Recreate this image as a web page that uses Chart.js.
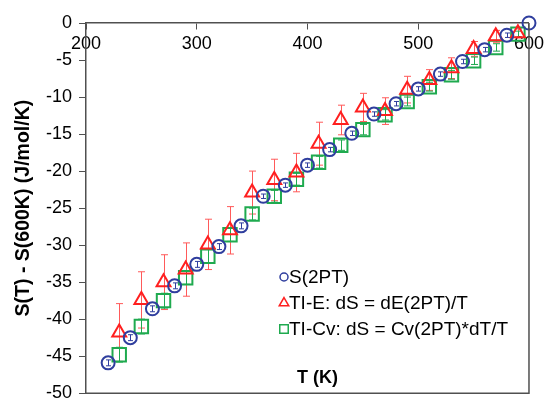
<!DOCTYPE html>
<html>
<head>
<meta charset="utf-8">
<script src="https://cdn.jsdelivr.net/npm/chart.js@4/dist/chart.umd.min.js"></script>
<style>
  html, body { margin: 0; padding: 0; background: #fff; }
  #wrap { width: 548px; height: 411px; position: relative; }
</style>
</head>
<body>
<div id="wrap"><canvas id="chart"></canvas></div>
<script>
// temperatures (K)
const tempFull = [220, 240, 260, 280, 300, 320, 340, 360, 380, 400,
                  420, 440, 460, 480, 500, 520, 540, 560, 580, 600];
const tempMid = [230, 250, 270, 290, 310, 330, 350, 370, 390, 410,
                 430, 450, 470, 490, 510, 530, 550, 570, 590];

// S(2PT)
const s2pt = [-45.9, -42.5, -38.6, -35.5, -32.6, -30.2, -27.4, -23.4, -21.9, -19.2,
              -17.1, -14.9, -12.3, -10.9, -8.9, -6.9, -5.2, -3.6, -1.65, 0];
const s2ptErr = [0.4, 0.4, 0.4, 0.4, 0.4, 0.4, 0.4, 0.3, 0.3, 0.3,
                 0.3, 0.3, 0.3, 0.3, 0.3, 0.3, 0.3, 0.3, 0.3, 0];

// TI-E: dS = dE(2PT)/T
const tiE = [-41.8, -37.4, -35.0, -33.3, -29.9, -28.0, -22.9, -21.2, -20.2, -16.3,
             -13.1, -11.4, -11.9, -9.0, -7.7, -6.1, -3.5, -1.8, -1.4];
const tiEErr = [3.9, 3.8, 3.7, 3.6, 3.4, 3.2, 2.9, 2.8, 2.6, 2.9,
                2.0, 1.9, 1.8, 1.8, 1.4, 1.4, 1.0, 0.8, 0.6];

// TI-Cv: dS = Cv(2PT)*dT/T
const tiCv = [-44.8, -41.0, -37.5, -34.4, -31.5, -28.6, -25.8, -23.4, -21.1, -18.8,
              -16.5, -14.4, -12.4, -10.6, -8.6, -7.0, -5.1, -3.3, -1.5];
const tiCvErr = [1.0, 1.0, 1.0, 0.9, 0.9, 0.9, 0.8, 0.8, 0.8, 0.8,
                 0.7, 0.7, 0.7, 0.6, 0.6, 0.6, 0.5, 0.5, 0.4];

const xTicks = [200, 300, 400, 500, 600];
const yTitle = "S(T) - S(600K) (J/mol/K)";
const xTitle = "T (K)";

const BLUE = "#2f3e9e";
const RED = "#ff1f1f";
const GREEN = "#1faa4f";
const AXIS = "#505050";
const FONT = "'Liberation Sans', Arial, sans-serif";

const toPts = (xs, ys) => xs.map((x, i) => ({ x, y: ys[i] }));

// vertical error bars with caps, drawn under the markers
const errorBarPlugin = {
  id: "errorBars",
  beforeDatasetsDraw(chart) {
    const { ctx } = chart;
    const xs = chart.scales.x;
    const ys = chart.scales.y;
    chart.data.datasets.forEach((ds) => {
      if (!ds.errors) return;
      ctx.save();
      ctx.strokeStyle = ds.errorColor;
      ctx.lineWidth = 1;
      ds.data.forEach((p, i) => {
        const e = ds.errors[i];
        if (!e) return;
        const px = Math.round(xs.getPixelForValue(p.x)) + 0.5;
        const top = ys.getPixelForValue(p.y + e);
        const bot = ys.getPixelForValue(p.y - e);
        const cap = ds.capWidth / 2;
        ctx.beginPath();
        ctx.moveTo(px, top);
        ctx.lineTo(px, bot);
        ctx.moveTo(px - cap, top);
        ctx.lineTo(px + cap, top);
        ctx.moveTo(px - cap, bot);
        ctx.lineTo(px + cap, bot);
        ctx.stroke();
      });
      ctx.restore();
    });
  },
};

// right/bottom frame, legend box and x title inside the plot
const decorPlugin = {
  id: "decor",
  afterDraw(chart) {
    const { ctx, chartArea: a } = chart;
    ctx.save();
    ctx.strokeStyle = AXIS;
    ctx.lineWidth = 1.5;
    ctx.beginPath();
    ctx.moveTo(a.right, a.top);
    ctx.lineTo(a.right, a.bottom);
    ctx.lineTo(a.left, a.bottom);
    ctx.stroke();

    // legend
    const lx = 284, ly0 = 277, dy = 26;
    chart.data.datasets.forEach((ds, i) => {
      const y = ly0 + i * dy;
      ctx.strokeStyle = ds.borderColor;
      ctx.fillStyle = "rgba(0,0,0,0)";
      Chart.helpers.drawPoint(ctx, {
        pointStyle: ds.pointStyle,
        radius: ds.legendRadius,
        borderWidth: 1,
        rotation: 0,
      }, lx, y);
      ctx.fillStyle = "#000";
      ctx.font = "19px " + FONT;
      ctx.textBaseline = "middle";
      ctx.textAlign = "left";
      ctx.fillText(ds.label, lx + 5, y + 1);
    });

    ctx.font = "bold 18px " + FONT;
    ctx.textAlign = "left";
    ctx.fillText(xTitle, 297, 378);
    ctx.restore();
  },
};

new Chart(document.getElementById("chart"), {
  type: "scatter",
  data: {
    datasets: [
      {
        label: "S(2PT)",
        data: toPts(tempFull, s2pt),
        errors: s2ptErr,
        errorColor: BLUE,
        capWidth: 5,
        pointStyle: "circle",
        pointRadius: 6.5,
        legendRadius: 4,
        borderColor: BLUE,
        backgroundColor: "rgba(0,0,0,0)",
        borderWidth: 2,
        clip: false,
      },
      {
        label: "TI-E: dS = dE(2PT)/T",
        data: toPts(tempMid, tiE),
        errors: tiEErr,
        errorColor: "#ff5a5a",
        capWidth: 7,
        pointStyle: "triangle",
        pointRadius: 8,
        legendRadius: 5.5,
        borderColor: RED,
        backgroundColor: "rgba(0,0,0,0)",
        borderWidth: 2,
        clip: false,
      },
      {
        label: "TI-Cv: dS = Cv(2PT)*dT/T",
        data: toPts(tempMid, tiCv),
        errors: tiCvErr,
        errorColor: GREEN,
        capWidth: 7,
        pointStyle: "rect",
        pointRadius: 9.5,
        legendRadius: 6,
        borderColor: GREEN,
        backgroundColor: "rgba(0,0,0,0)",
        borderWidth: 2,
        clip: false,
      },
    ],
  },
  options: {
    responsive: true,
    maintainAspectRatio: false,
    animation: false,
    layout: { padding: { top: 23, right: 18, bottom: 6, left: 0 } },
    plugins: {
      legend: { display: false },
      tooltip: { enabled: false },
    },
    scales: {
      x: {
        type: "linear",
        position: { y: 0 },
        min: 200,
        max: 600,
        afterFit: (s) => { s.height = 0; },
        afterBuildTicks: (s) => { s.ticks = xTicks.map((v) => ({ value: v })); },
        ticks: {
          font: { size: 18, family: FONT },
          color: "#000",
          padding: 4,
          maxRotation: 0,
        },
        grid: { drawOnChartArea: false, tickLength: 6, color: AXIS },
        border: { color: AXIS, width: 1.5 },
      },
      y: {
        type: "linear",
        min: -50,
        max: 0,
        afterFit: (s) => { s.width = 86; },
        ticks: {
          stepSize: 5,
          font: { size: 18, family: FONT },
          color: "#000",
          padding: 7,
        },
        grid: { drawOnChartArea: false, tickLength: 7, color: AXIS },
        border: { color: AXIS, width: 1.5 },
        title: {
          display: true,
          text: yTitle,
          font: { size: 19.5, weight: "bold", family: FONT },
          color: "#000",
          padding: { top: 12, bottom: 0 },
        },
      },
    },
  },
  plugins: [errorBarPlugin, decorPlugin],
});
</script>
</body>
</html>
